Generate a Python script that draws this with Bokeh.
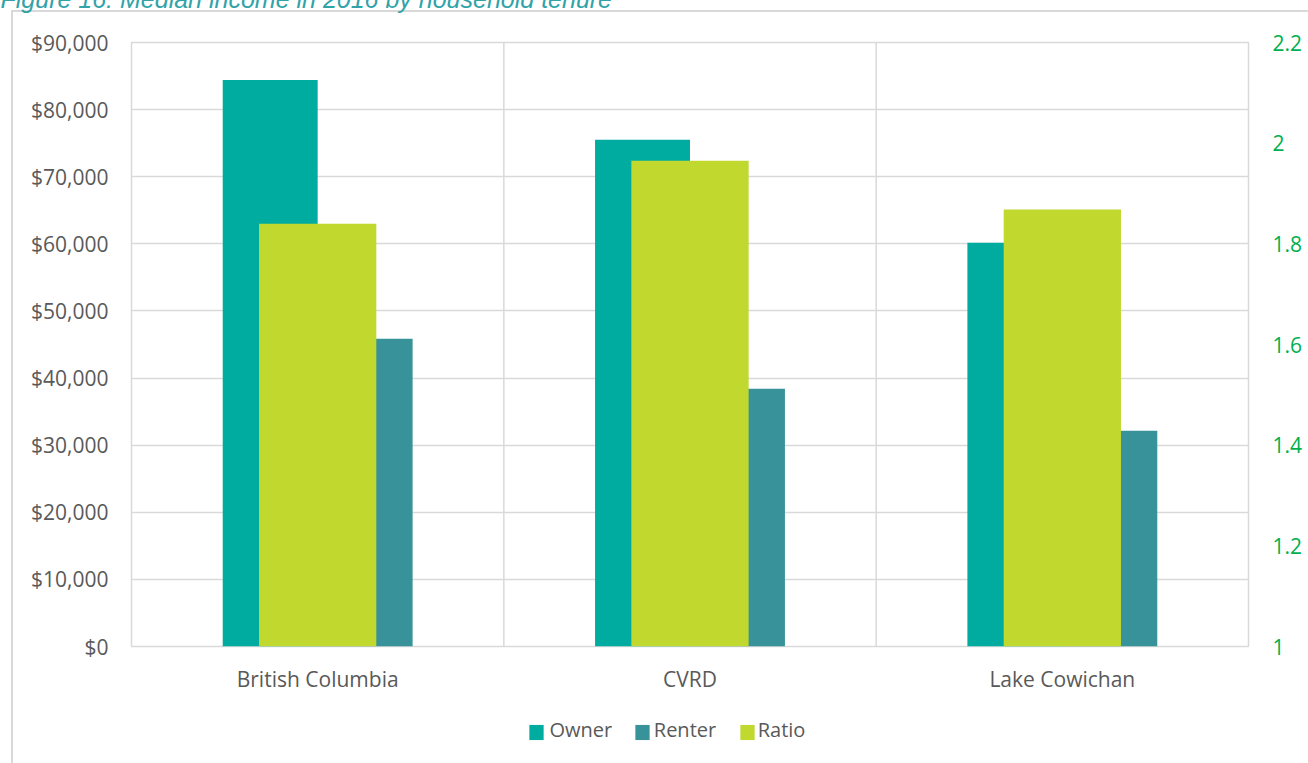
from bokeh.plotting import figure
from bokeh.models import (FactorRange, Range1d, LinearAxis, NumeralTickFormatter, FixedTicker,
                          Span, Label, ColumnDataSource)
from bokeh.transform import dodge
from bokeh.embed import file_html
from bokeh.resources import INLINE

# ---- data ----
categories = ["British Columbia", "CVRD", "Lake Cowichan"]
owner = [84400, 75500, 60150]
renter = [45850, 38400, 32150]
ratio = [1.84, 1.965, 1.868]
left_ticks = [0, 10000, 20000, 30000, 40000, 50000, 60000, 70000, 80000, 90000]
right_ticks = [1.0, 1.2, 1.4, 1.6, 1.8, 2.0, 2.2]
series_names = ["Owner", "Renter", "Ratio"]
title_text = "Figure 16: Median income in 2016 by household tenure"

OWNER_C = "#00ac9f"
RENTER_C = "#379399"
RATIO_C = "#c1d82f"
SERIES_C = [OWNER_C, RENTER_C, RATIO_C]
GRID_C = "#d9d9d9"
TEXT_C = "#595959"
FONT = "Open Sans"

src = ColumnDataSource(dict(cat=categories, owner=owner, renter=renter, ratio=ratio))

p = figure(x_range=FactorRange(factors=categories), y_range=Range1d(0, 90000),
           width=1308, height=763, output_backend="svg", toolbar_location=None,
           min_border_left=130, min_border_right=60, min_border_top=42, min_border_bottom=117)
p.extra_y_ranges = {"ratio": Range1d(1, 2.2)}

# outer chart border (left and top edges; the rest lies past the window)
p.border_fill_color = None
p.styles = {
    "background-color": "white",
    "background-image": f"linear-gradient({GRID_C}, {GRID_C}), linear-gradient({GRID_C}, {GRID_C})",
    "background-size": "2px 3000px, 3000px 2px",
    "background-position": "11px 10px, 11px 10px",
    "background-repeat": "no-repeat",
}

# gridlines / frame
p.xgrid.visible = False
p.ygrid.ticker = FixedTicker(ticks=left_ticks)
p.ygrid.grid_line_color = GRID_C
p.ygrid.grid_line_width = 1.5
p.outline_line_color = GRID_C
p.outline_line_width = 1.5
for loc in (1, 2):
    p.add_layout(Span(location=loc, dimension="height", line_color=GRID_C, line_width=1.5))

# bars
r_owner = p.vbar(x=dodge("cat", -0.1275, range=p.x_range), top="owner", width=0.255,
                 source=src, fill_color=OWNER_C, line_color=None)
r_renter = p.vbar(x=dodge("cat", 0.1275, range=p.x_range), top="renter", width=0.255,
                  source=src, fill_color=RENTER_C, line_color=None)
r_ratio = p.vbar(x="cat", top="ratio", bottom=1, width=0.315, source=src,
                 y_range_name="ratio", fill_color=RATIO_C, line_color=None)

# axes
def style_axis(ax, color=TEXT_C, size="21px"):
    ax.axis_line_color = None
    ax.major_tick_line_color = None
    ax.minor_tick_line_color = None
    ax.major_tick_out = 0
    ax.major_tick_in = 0
    ax.minor_tick_out = 0
    ax.major_label_text_font = FONT
    ax.major_label_text_font_size = size
    ax.major_label_text_color = color

ly = p.yaxis[0]
ly.ticker = FixedTicker(ticks=left_ticks)
ly.formatter = NumeralTickFormatter(format="$0,0")
style_axis(ly)
ly.major_label_standoff = 23

ry = LinearAxis(y_range_name="ratio", ticker=FixedTicker(ticks=right_ticks),
                formatter=NumeralTickFormatter(format="0.[0]"))
style_axis(ry, color="#00b050")
ry.major_label_standoff = 24
p.add_layout(ry, "right")

bx = p.xaxis[0]
style_axis(bx)
bx.major_label_standoff = 18

# title (cut off at the top, as in the reference)
p.add_layout(Label(x=0, y=-2, x_units="canvas", y_units="canvas", text=title_text,
                   text_font="Liberation Sans", text_font_style="italic",
                   text_font_size="25px", text_color="#31a3a8", text_baseline="alphabetic"),
             "above")

# legend: colour swatches and series names below the plot
legend_x = [529, 635, 740]
swatch_sides = ["left", "left", "below"]
for col, lx, side in zip(SERIES_C, legend_x, swatch_sides):
    p.add_layout(Label(x=lx + 7, y=732, x_units="canvas", y_units="canvas", text=" ",
                       anchor="center", text_font_size="1px", padding=7,
                       background_fill_color=col, border_line_color=None), side)
gap = "\u00a0" * 8
p.add_layout(Label(x=legend_x[0] + 20, y=729, x_units="canvas", y_units="canvas",
                   text=gap.join(series_names),
                   anchor="center_left", text_baseline="middle", text_align="left",
                   text_font=FONT, text_font_size="20px", text_color=TEXT_C), "below")

open("out.html", "w").write(file_html(p, INLINE))
